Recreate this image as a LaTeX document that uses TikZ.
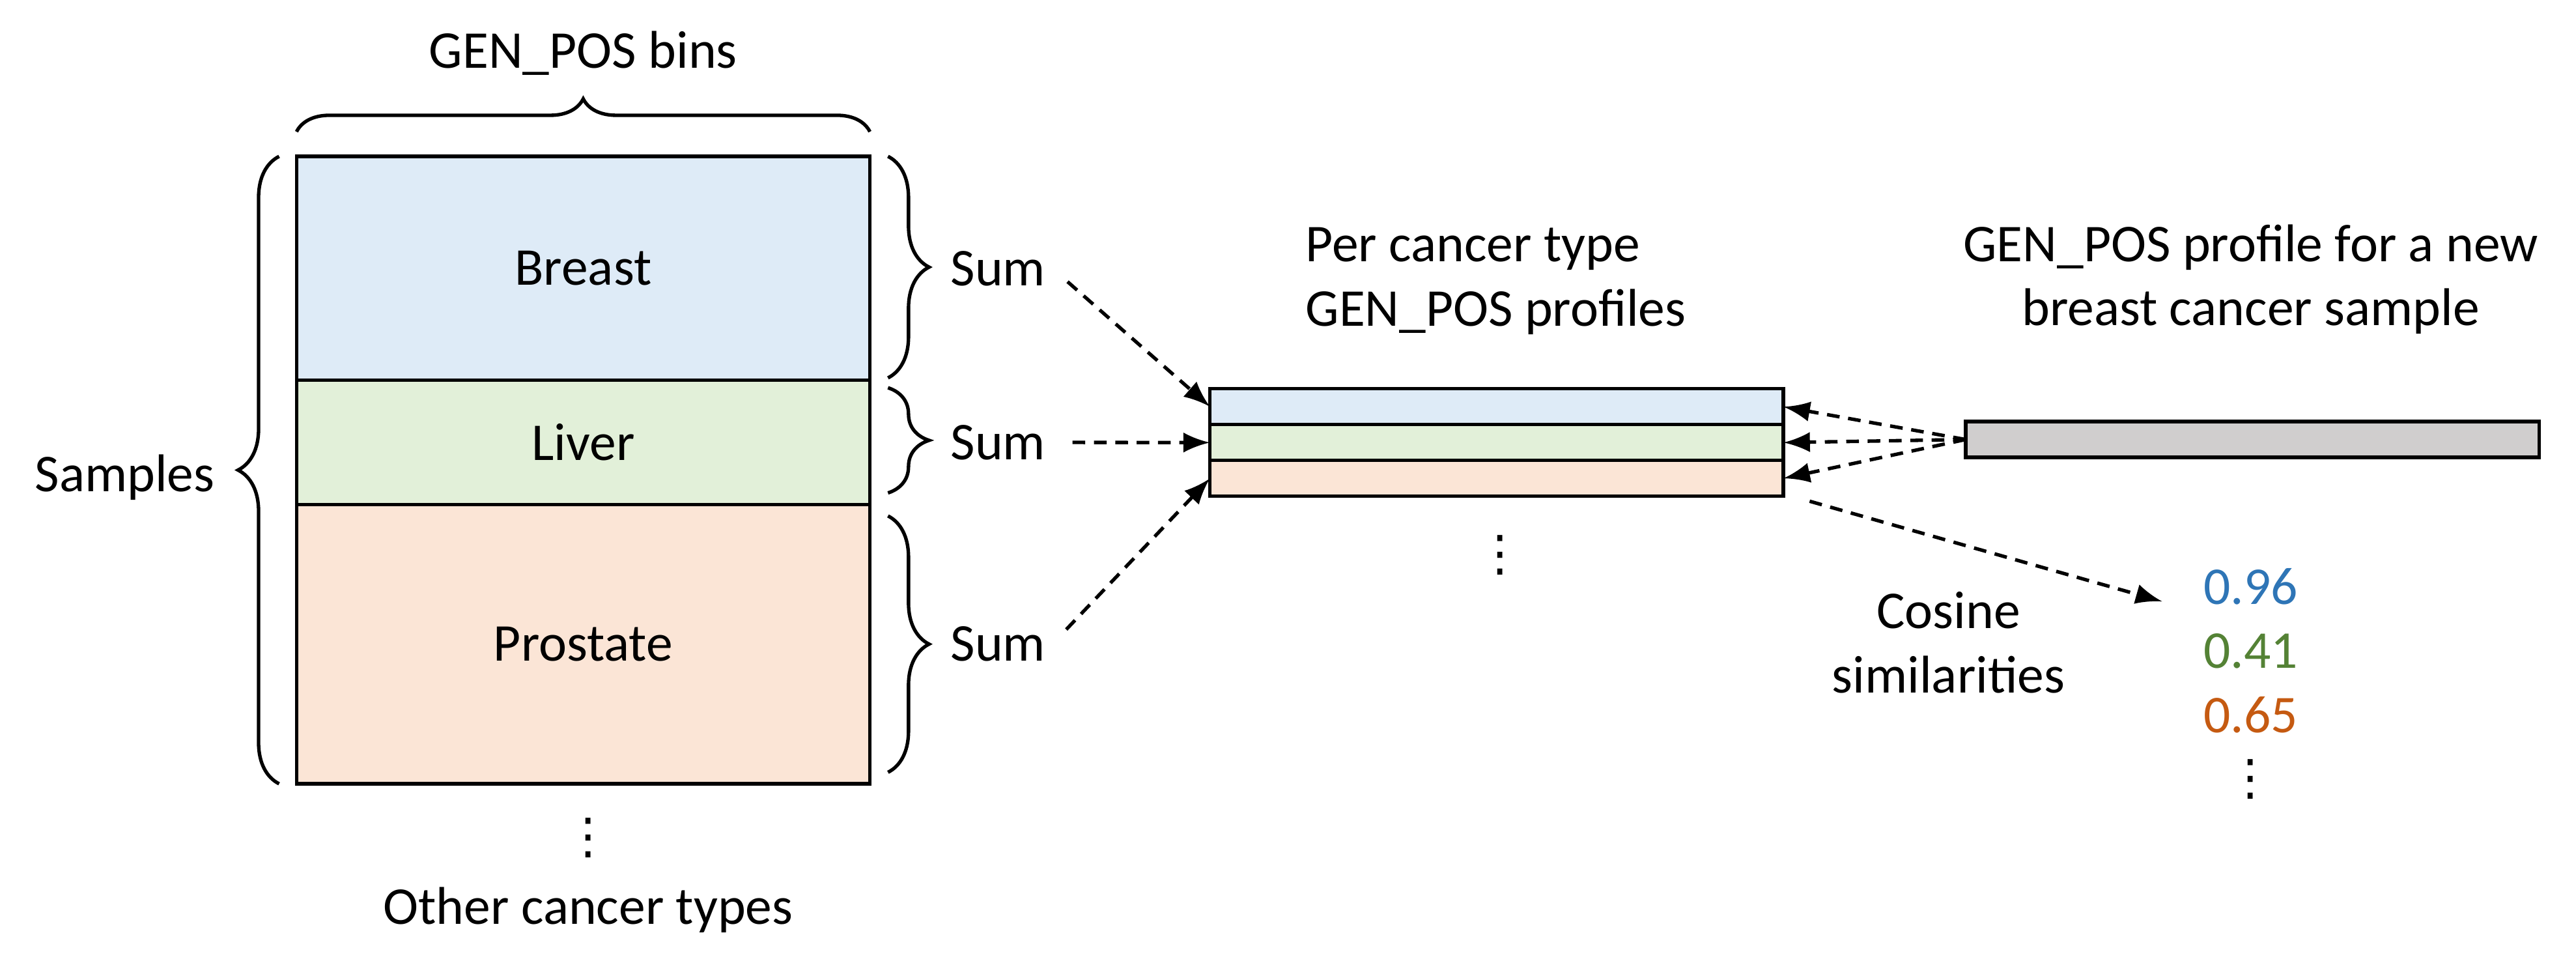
\documentclass[tikz,border=0pt]{standalone}
\usepackage{fontspec}
\setmainfont{Carlito}
\newfontfamily\dotfont{DejaVu Sans}
\usetikzlibrary{calc,arrows,positioning,decorations.pathreplacing}

\definecolor{breastc}{HTML}{DEEBF7}
\definecolor{liverc}{HTML}{E2F0D9}
\definecolor{prostc}{HTML}{FBE5D6}
\definecolor{newc}{HTML}{D0CECE}
\definecolor{simblue}{HTML}{2E75B6}
\definecolor{simgreen}{HTML}{548235}
\definecolor{simorange}{HTML}{C55A11}

\newcommand{\vdotsc}{{\dotfont\fontsize{8.5}{9}\selectfont ⋮}}

\tikzset{
  lbl/.style={font=\fontsize{9.2}{11.15}\selectfont, inner sep=1pt},
  band/.style={draw, line width=0.6pt, outer sep=0pt, inner sep=0pt,
    minimum width=3.49cm, font=\fontsize{9.2}{11.15}\selectfont},
  bar/.style={band, minimum height=0.218cm},
  brc/.style={decorate, decoration={brace, amplitude=#1}, line width=0.6pt},
  flow/.style={-latex, line width=0.6pt, dash pattern=on 2.2pt off 1.5pt},
}

\begin{document}
\begin{tikzpicture}
\useasboundingbox (0,0) rectangle (15.68,5.923);

% samples x bins matrix
\node[band, fill=breastc, minimum height=1.363cm] (breast) at (3.55,4.29) {Breast};
\node[band, fill=liverc, minimum height=0.755cm, below=0pt of breast] (liver) {Liver};
\node[band, fill=prostc, minimum height=1.70cm, below=0pt of liver] (prostate) {Prostate};

\draw[brc=0.2cm] ([yshift=0.15cm]breast.north west) -- ([yshift=0.15cm]breast.north east);
\node[lbl, anchor=base] (bins) at (3.55,5.507) {GEN\_POS bins};

\draw[brc=0.25cm] ([xshift=-0.106cm]prostate.south west) -- ([xshift=-0.106cm]breast.north west);
\node[lbl, anchor=base] (samples) at (0.76,2.933) {Samples};

\node[lbl] (more1) at (3.58,0.826) {\vdotsc};
\node[lbl, anchor=base] (other) at (3.58,0.299) {Other cancer types};

% sums
\draw[brc=0.25cm] ([xshift=0.11cm]breast.north east) -- ([shift={(0.11cm,0.015cm)}]breast.south east);
\draw[brc=0.25cm] ([shift={(0.11cm,-0.045cm)}]liver.north east) -- ([shift={(0.11cm,0.07cm)}]liver.south east);
\draw[brc=0.25cm] ([shift={(0.11cm,-0.07cm)}]prostate.north east) -- ([shift={(0.11cm,0.07cm)}]prostate.south east);
\node[lbl] (sum1) at (6.075,0 |- breast) {Sum};
\node[lbl] (sum2) at (6.075,0 |- liver) {Sum};
\node[lbl] (sum3) at (6.075,0 |- prostate) {Sum};

% per cancer type profiles
\node[bar, fill=breastc] (pbreast) at (9.11,3.448) {};
\node[bar, fill=liverc, below=0pt of pbreast] (pliver) {};
\node[bar, fill=prostc, below=0pt of pliver] (pprost) {};
\node[lbl, align=left, anchor=west] (ptitle) at (7.905,4.214) {Per cancer type\\GEN\_POS profiles};
\node[lbl] (pmore) at (9.13,2.546) {\vdotsc};

\draw[flow, shorten <=3.5pt] (sum1.east) -- (pbreast.west);
\draw[flow, shorten <=3.5pt] (sum2.east) -- (pliver.west);
\draw[flow, shorten <=3.5pt] (sum3.east) -- (pprost.west);

% new sample
\node[bar, fill=newc] (newbar) at (13.71,3.2485) {};
\node[lbl, align=center] (ntitle) at (13.70,4.223) {GEN\_POS profile for a new\\breast cancer sample};
\foreach \t in {pbreast,pliver,pprost}
  \draw[flow] (newbar.west) -- (\t.east);

% similarities
\node[lbl, text=simblue] (v1) at (13.70,2.353) {0.96};
\node[lbl, text=simgreen] (v2) at (13.70,1.963) {0.41};
\node[lbl, text=simorange] (v3) at (13.70,1.573) {0.65};
\node[lbl] (vmore) at (13.70,1.183) {\vdotsc};
\node[lbl, align=center] (cos) at (11.86,2.013) {Cosine\\similarities};

\coordinate (cstart) at ($(pprost.south east)+(0.16,-0.03)$);
\coordinate (cend) at ($(v1.west)+(-0.21,-0.09)$);
\draw[flow] (cstart) -- (cend);
\end{tikzpicture}
\end{document}
